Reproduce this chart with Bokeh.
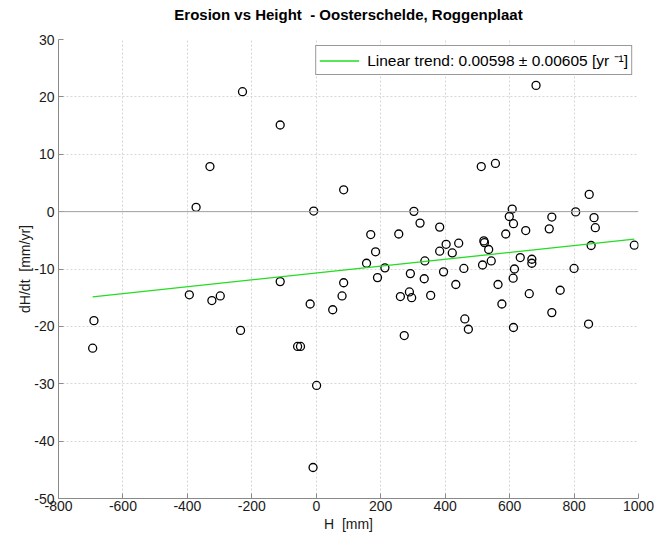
from bokeh.plotting import figure
from bokeh.models import Span, Legend, LegendItem, FixedTicker, Range1d, Title
from bokeh.embed import file_html
from bokeh.resources import INLINE

# data
H = [-229, -112, -330, -373, -8, 85, -690, -694, -394, -324, -298, -235, -112,
     -58, -49, -19, 1, -10, 51, 80, 85, 156, 169, 184, 190, 213, 256, 261, 273,
     289, 292, 296, 303, 322, 335, 337, 355, 383, 383, 395, 403, 422, 433, 442,
     458, 461, 472, 512, 516, 520, 522, 535, 543, 556, 564, 576, 588, 599, 608,
     612, 611, 612, 615, 633, 650, 661, 669, 669, 682, 723, 731, 731, 757, 800,
     805, 845, 847, 853, 862, 866, 987]
dHdt = [20.9, 15.1, 7.85, 0.75, 0.1, 3.8, -19.0, -23.8, -14.5, -15.5, -14.7,
        -20.7, -12.2, -23.5, -23.5, -16.1, -30.3, -44.6, -17.1, -14.7, -12.4,
        -9.0, -4.0, -7.0, -11.5, -9.8, -3.9, -14.8, -21.6, -14.0, -10.8, -15.0,
        0.05, -2.0, -11.7, -8.6, -14.6, -2.7, -6.9, -10.5, -5.7, -7.2, -12.7,
        -5.5, -9.9, -18.7, -20.5, 7.85, -9.3, -5.1, -5.4, -6.6, -8.6, 8.4,
        -12.7, -16.1, -3.9, -0.85, 0.45, -2.1, -11.6, -20.2, -10.0, -8.0, -3.3,
        -14.3, -8.3, -9.0, 22.0, -3.0, -0.95, -17.6, -13.7, -9.9, -0.05, -19.6,
        3.0, -5.9, -1.05, -2.8, -5.85]
trend_slope = 0.00598
trend_intercept = -10.7
trend_x = [min(H), max(H)]
trend_y = [trend_slope * v + trend_intercept for v in trend_x]
x_ticks = [-800, -600, -400, -200, 0, 200, 400, 600, 800, 1000]
y_ticks = [-50, -40, -30, -20, -10, 0, 10, 20, 30]
title_text = "Erosion vs Height \u00a0- Oosterschelde, Roggenplaat"

FONT = "Liberation Sans"
NB = "\u00a0"

p = figure(width=657, height=534, output_backend="svg", toolbar_location=None,
           x_range=Range1d(-800, 1000), y_range=Range1d(-50, 30),
           min_border_left=58, min_border_right=19, min_border_top=39,
           min_border_bottom=36)
p.outline_line_color = None
p.background_fill_color = "white"
p.border_fill_color = "white"

p.title.text = title_text
p.title.text_font = FONT
p.title.text_font_size = "15px"
p.title.text_font_style = "bold"
p.title.align = "center"
p.title.vertical_align = "bottom"
p.title.text_color = "black"
p.title.standoff = 0

# blank spacer between the title and the frame
spacer = Title(text=NB, text_font=FONT, text_font_size="13px", standoff=0,
               text_color="white")
p.add_layout(spacer, "above")

for ax in (p.xaxis, p.yaxis):
    ax.axis_line_color = "#8a8a8a"
    ax.major_tick_line_color = "#8a8a8a"
    ax.major_tick_in = 5
    ax.major_tick_out = 0
    ax.minor_tick_line_color = None
    ax.major_label_text_font = FONT
    ax.major_label_text_font_size = "14px"
    ax.major_label_text_color = "#1a1a1a"
    ax.axis_label_text_font = FONT
    ax.axis_label_text_font_size = "14px"
    ax.axis_label_text_font_style = "normal"
    ax.axis_label_text_color = "#1a1a1a"

p.xaxis.ticker = FixedTicker(ticks=x_ticks)
p.yaxis.ticker = FixedTicker(ticks=y_ticks)
p.xaxis.major_label_overrides = {t: str(t) for t in x_ticks}
p.yaxis.major_label_overrides = {t: str(t) for t in y_ticks}
p.xaxis.axis_label = "H " + NB + "[mm]"
p.yaxis.axis_label = "dH/dt " + NB + "[mm/yr]"
p.xaxis.major_label_standoff = 2
p.xaxis.axis_label_standoff = 2
p.yaxis.major_label_standoff = 4
p.yaxis.axis_label_standoff = -2

p.xgrid.ticker = FixedTicker(ticks=x_ticks)
p.ygrid.ticker = FixedTicker(ticks=y_ticks)
for g in (p.xgrid, p.ygrid):
    g.grid_line_color = "#d6d6d6"
    g.grid_line_dash = "2 2"
    g.grid_line_width = 1

p.add_layout(Span(location=0, dimension="width", line_color="#a0a0a0", line_width=1))

sc = p.scatter(H, dHdt, marker="circle", size=8, fill_color=None,
               line_color="black", line_width=1.3)
ln = p.line(trend_x, trend_y, line_color="#22dd22", line_width=1.3)

legend = Legend(items=[LegendItem(label="Linear trend: 0.00598 \u00b1 0.00605 [yr \u207b\u00b9]",
                                  renderers=[ln])],
                location="top_right")
legend.label_text_font = FONT
legend.label_text_font_size = "15.5px"
legend.label_text_color = "black"
legend.border_line_color = "#333333"
legend.border_line_width = 1
legend.background_fill_color = "white"
legend.background_fill_alpha = 1
legend.glyph_width = 40
legend.glyph_height = 15
legend.label_height = 15
legend.label_standoff = 8
legend.padding = 3
legend.margin = 6
legend.spacing = 0
p.add_layout(legend)

open("out.html", "w").write(file_html(p, INLINE))
